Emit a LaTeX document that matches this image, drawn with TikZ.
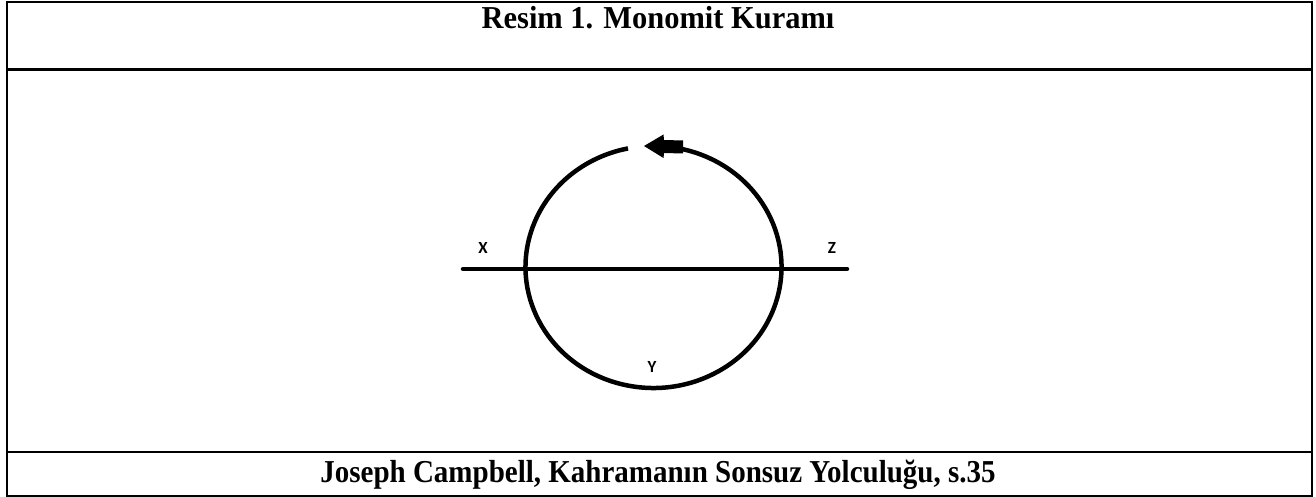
\documentclass[tikz,border=0pt]{standalone}
\usepackage{fontspec}
\usetikzlibrary{calc}
\setmainfont{Liberation Serif}
\newfontfamily\lblfont{Carlito}
\begin{document}
\begin{tikzpicture}[x=1pt,y=-1pt,
  frame/.style={line width=2.2pt,black},
  ring/.style={line width=4.5pt,black},
  caption/.style={font=\fontsize{29}{32}\selectfont\bfseries,inner sep=0pt,anchor=base},
  lbl/.style={font=\lblfont\fontsize{17}{19}\selectfont\bfseries,inner sep=0pt}]
\useasboundingbox (0,0) rectangle (1316,497);
% table frame
\draw[frame] (7,2) rectangle (1312,496);
\draw[frame] (7,69.5) -- (1312,69.5);
\draw[frame] (7,452) -- (1312,452);
% captions
\node[caption] (title) at (658,29) {\scalebox{1.05}[1.1]{Resim 1. Monomit Kuramı}};
\node[caption] (source) at (658,482) {\scalebox{1}[1.1]{Joseph Campbell, Kahramanın Sonsuz Yolculuğu, s.35}};
% horizontal axis
\coordinate (axl) at (463,269);
\coordinate (axr) at (847,269);
\draw[ring,line cap=round] (axl) -- (axr);
% circle with gap at the top
\coordinate (c) at (653.5,267);
\draw[ring] ($(c)+(-77:128 and 121)$) arc[start angle=-77,end angle=258.5,x radius=128,y radius=121];
% arrow head
\fill (644,146) -- (663.5,134.5) -- (664,140) -- (683,140.5) -- (683,153.5) -- (664,153) -- (663.5,158) -- cycle;
% labels
\node[lbl] (X) at (483,248) {X};
\node[lbl] (Z) at (832,248) {Z};
\node[lbl] (Y) at (652,367) {Y};
\end{tikzpicture}
\end{document}
